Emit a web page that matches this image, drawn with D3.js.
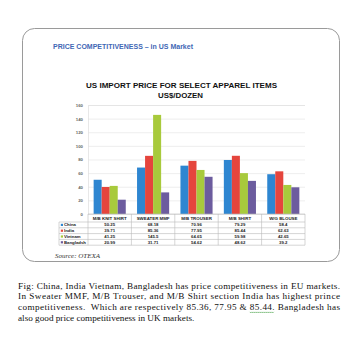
<!DOCTYPE html>
<html>
<head>
<meta charset="utf-8">
<script src="https://cdn.jsdelivr.net/npm/d3@7"></script>
<style>
  html, body { margin: 0; padding: 0; background: #fff; }
  svg { display: block; }
</style>
</head>
<body>
<svg id="chart" width="357" height="339"></svg>
<script>
// Product categories and per-country import prices (US$/dozen)
const categories = ["M/B KNIT SHIRT", "SWEATER MMF", "M/B TROUSER", "M/B SHIRT", "W/G BLOUSE"];
const seriesNames = ["China", "India", "Vietnam", "Bangladsh"];
const china      = [50.25, 68.18, 70.96, 79.29, 58.4];
const india      = [39.71, 85.36, 77.95, 85.44, 62.63];
const vietnam    = [41.25, 145.5, 64.65, 59.98, 42.65];
const bangladesh = [20.99, 31.71, 54.62, 48.62, 39.2];
const seriesColors = ["#2e86d1", "#e5453d", "#a8ca3c", "#6c5c9e"];
const yTicks = [0, 20, 40, 60, 80, 100, 120, 140, 160];

const seriesValues = [china, india, vietnam, bangladesh];
const series = seriesNames.map((name, i) => ({ name, color: seriesColors[i], values: seriesValues[i] }));

const svg = d3.select("#chart");

// Rounded card
svg.append("rect")
  .attr("x", 22.5).attr("y", 28.5).attr("width", 317).attr("height", 233)
  .attr("rx", 12).attr("ry", 12)
  .attr("fill", "#fff").attr("stroke", "#9a9a9a").attr("stroke-width", 1);

svg.append("text")
  .attr("x", 53).attr("y", 48.5)
  .attr("font-family", "Liberation Sans, Arial, sans-serif")
  .attr("font-size", 7.6).attr("font-weight", "bold")
  .attr("fill", "#3f67b5")
  .attr("textLength", 140).attr("lengthAdjust", "spacingAndGlyphs")
  .text("PRICE COMPETITIVENESS – in US Market");

// Chart title
const titleG = svg.append("g")
  .attr("font-family", "Liberation Sans, Arial, sans-serif")
  .attr("font-weight", "bold").attr("fill", "#111").attr("text-anchor", "middle");
titleG.append("text").attr("x", 181.5).attr("y", 88).attr("font-size", 7.4)
  .attr("textLength", 191).attr("lengthAdjust", "spacingAndGlyphs")
  .text("US IMPORT PRICE FOR SELECT APPAREL ITEMS");
titleG.append("text").attr("x", 180.5).attr("y", 97.5).attr("font-size", 7.4)
  .attr("textLength", 45).attr("lengthAdjust", "spacingAndGlyphs")
  .text("US$/DOZEN");

// Scales
const plotLeft = 88, plotRight = 305, plotTop = 105, plotBottom = 214;
const x = d3.scaleBand().domain(categories).range([plotLeft, plotRight]).padding(0);
const xs = d3.scaleBand().domain(seriesNames)
  .range([x.bandwidth() * 0.13, x.bandwidth() * 0.87]).padding(0);
const y = d3.scaleLinear().domain([0, 160]).range([plotBottom, plotTop]);

// Gridlines and y axis
const yAxis = d3.axisLeft(y).tickValues(yTicks).tickSize(-(plotRight - plotLeft)).tickPadding(5);
const yg = svg.append("g").attr("transform", `translate(${plotLeft},0)`).call(yAxis);
yg.select(".domain").attr("stroke", "#d8d8d8").attr("stroke-width", 0.6);
yg.selectAll(".tick line").attr("stroke", "#e2e2e2").attr("stroke-width", 0.6);
yg.selectAll(".tick text")
  .attr("font-family", "Liberation Sans, Arial, sans-serif")
  .attr("font-size", 4.3).attr("font-weight", "bold").attr("fill", "#666");

// Bars
const groups = svg.append("g").selectAll("g")
  .data(categories).join("g")
  .attr("transform", d => `translate(${x(d)},0)`);
groups.selectAll("rect")
  .data((d, ci) => series.map(s => ({ name: s.name, color: s.color, value: s.values[ci] })))
  .join("rect")
  .attr("x", d => xs(d.name))
  .attr("width", xs.bandwidth())
  .attr("y", d => y(d.value))
  .attr("height", d => y(0) - y(d.value))
  .attr("fill", d => d.color);

// Data table below the axis
const tableLeft = 59, headTop = plotBottom, headBottom = 222, rowH = 5.8;
const tableBottom = headBottom + rowH * series.length;
const tg = svg.append("g").attr("font-family", "Liberation Sans, Arial, sans-serif")
  .attr("font-weight", "bold").attr("fill", "#222");
const lineColor = "#b8b8b8";

// horizontal rules
tg.append("line").attr("x1", plotLeft).attr("x2", plotRight).attr("y1", headTop).attr("y2", headTop)
  .attr("stroke", lineColor).attr("stroke-width", 0.6);
d3.range(series.length + 1).forEach(i => {
  const yy = headBottom + i * rowH;
  tg.append("line").attr("x1", tableLeft).attr("x2", plotRight).attr("y1", yy).attr("y2", yy)
    .attr("stroke", lineColor).attr("stroke-width", 0.6);
});
// vertical rules
tg.append("line").attr("x1", tableLeft).attr("x2", tableLeft).attr("y1", headBottom).attr("y2", tableBottom)
  .attr("stroke", lineColor).attr("stroke-width", 0.6);
categories.concat(["end"]).forEach((c, i) => {
  const xx = plotLeft + i * x.bandwidth();
  tg.append("line").attr("x1", xx).attr("x2", xx).attr("y1", headTop).attr("y2", tableBottom)
    .attr("stroke", lineColor).attr("stroke-width", 0.6);
});

// header cells
tg.selectAll("text.head").data(categories).join("text")
  .attr("class", "head")
  .attr("x", d => x(d) + x.bandwidth() / 2).attr("y", headBottom - 2.2)
  .attr("text-anchor", "middle").attr("font-size", 4.4)
  .text(d => d);

// legend cells and values
series.forEach((s, i) => {
  const cy = headBottom + i * rowH + rowH / 2;
  tg.append("rect").attr("x", tableLeft + 1.8).attr("y", cy - 1.1).attr("width", 2.2).attr("height", 2.2)
    .attr("fill", s.color);
  tg.append("text").attr("x", tableLeft + 5).attr("y", cy + 1.5).attr("font-size", 4.3).text(s.name);
  categories.forEach((c, ci) => {
    tg.append("text").attr("x", x(c) + x.bandwidth() / 2).attr("y", cy + 1.5)
      .attr("text-anchor", "middle").attr("font-size", 4.3)
      .text(s.values[ci]);
  });
});

svg.append("text").attr("x", 55).attr("y", 258)
  .attr("font-family", "Liberation Serif, Times New Roman, serif")
  .attr("font-style", "italic").attr("font-size", 7).attr("fill", "#333")
  .text("Source: OTEXA");

// Caption paragraph (justified except the last line)
const captionLines = [
  "Fig: China, India Vietnam, Bangladesh has price competitiveness in EU markets.",
  "In Sweater MMF, M/B Trouser, and M/B Shirt section India has highest prince",
  "competitiveness.  Which are respectively 85.36, 77.95 & 85.44. Bangladesh has",
  "also good price competitiveness in UK markets."
];
const cap = svg.append("g").attr("font-family", "Liberation Serif, Times New Roman, serif")
  .attr("font-size", 9.2).attr("fill", "#111");
const capNodes = captionLines.map((t, i) => {
  const el = cap.append("text").attr("x", 18).attr("y", 288.5 + i * 10.7).attr("xml:space", "preserve").text(t);
  if (i < captionLines.length - 1) el.attr("textLength", 322).attr("lengthAdjust", "spacing");
  return el;
});

// wavy proofing underline beneath "85.44"
const node = capNodes[2].node();
const idx = captionLines[2].indexOf("85.44");
const x0 = node.getStartPositionOfChar(idx).x;
const x1 = node.getEndPositionOfChar(idx + 5).x;
const baseY = 288.5 + 2 * 10.7 + 2;
const pts = d3.range(x0, x1 + 0.01, 1).map((px, k) => [px, baseY + (k % 2 ? 1 : 0)]);
svg.append("path").attr("d", d3.line()(pts))
  .attr("fill", "none").attr("stroke", "#3a9a3a").attr("stroke-width", 0.6);
</script>
</body>
</html>
